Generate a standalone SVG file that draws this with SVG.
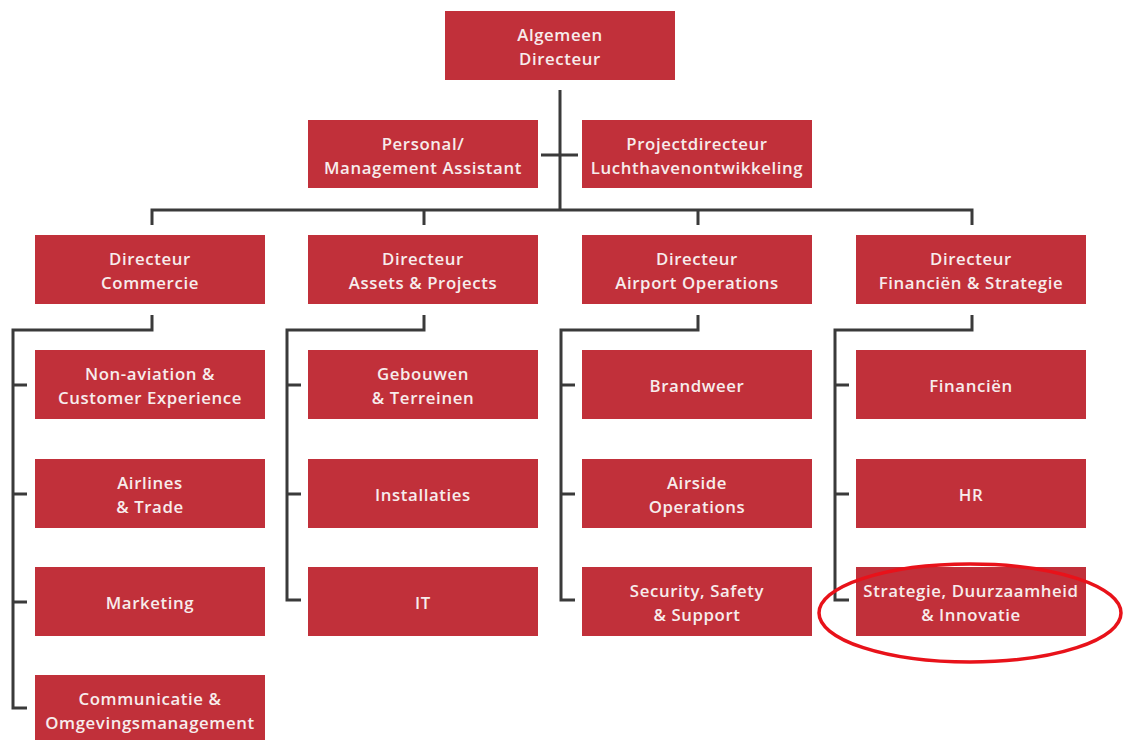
<svg xmlns="http://www.w3.org/2000/svg" width="1123" height="740" viewBox="0 0 1123 740">
<style>
.b{fill:#c1303a}
.t{font-family:"Open Sans","Noto Sans",sans-serif;font-size:16.8px;font-weight:600;letter-spacing:0.6px;fill:#f7ecec;text-anchor:middle;dominant-baseline:central}
.c{fill:none;stroke:#3a3a3a;stroke-width:3}
</style>
<rect width="1123" height="740" fill="#ffffff"/>
<g id="connectors">
<path class="c" d="M560 90V210M541 155H578M152 225V210H972V225M424 210V225M698 210V225"/>
<path class="c" d="M152 315V330H13V708H27M13 385H27M13 494H27M13 602H27"/>
<path class="c" d="M424 315V330H287V600H301M287 385H301M287 494H301"/>
<path class="c" d="M698 315V330H561V600H575M561 385H575M561 494H575"/>
<path class="c" d="M972 315V330H835V600H849M835 385H849M835 494H849"/>
</g>
<g id="n-ad"><rect class="b" x="445" y="11" width="230" height="69"/><text class="t" x="560" y="34">Algemeen</text><text class="t" x="560" y="58">Directeur</text></g>
<g id="n-pa"><rect class="b" x="308" y="120" width="230" height="68"/><text class="t" x="423" y="143">Personal/</text><text class="t" x="423" y="167">Management Assistant</text></g>
<g id="n-pd"><rect class="b" x="582" y="120" width="230" height="68"/><text class="t" x="697" y="143">Projectdirecteur</text><text class="t" x="697" y="167">Luchthavenontwikkeling</text></g>
<g id="n-dc"><rect class="b" x="35" y="235" width="230" height="69"/><text class="t" x="150" y="258">Directeur</text><text class="t" x="150" y="282">Commercie</text></g>
<g id="n-dap"><rect class="b" x="308" y="235" width="230" height="69"/><text class="t" x="423" y="258">Directeur</text><text class="t" x="423" y="282">Assets &amp; Projects</text></g>
<g id="n-dao"><rect class="b" x="582" y="235" width="230" height="69"/><text class="t" x="697" y="258">Directeur</text><text class="t" x="697" y="282">Airport Operations</text></g>
<g id="n-dfs"><rect class="b" x="856" y="235" width="230" height="69"/><text class="t" x="971" y="258">Directeur</text><text class="t" x="971" y="282">Financiën &amp; Strategie</text></g>
<g id="n-nav"><rect class="b" x="35" y="350" width="230" height="69"/><text class="t" x="150" y="373">Non-aviation &amp;</text><text class="t" x="150" y="397">Customer Experience</text></g>
<g id="n-air"><rect class="b" x="35" y="459" width="230" height="69"/><text class="t" x="150" y="482">Airlines</text><text class="t" x="150" y="506">&amp; Trade</text></g>
<g id="n-mkt"><rect class="b" x="35" y="567" width="230" height="69"/><text class="t" x="150" y="602">Marketing</text></g>
<g id="n-com"><rect class="b" x="35" y="675" width="230" height="69"/><text class="t" x="150" y="698">Communicatie &amp;</text><text class="t" x="150" y="722">Omgevingsmanagement</text></g>
<g id="n-geb"><rect class="b" x="308" y="350" width="230" height="69"/><text class="t" x="423" y="373">Gebouwen</text><text class="t" x="423" y="397">&amp; Terreinen</text></g>
<g id="n-ins"><rect class="b" x="308" y="459" width="230" height="69"/><text class="t" x="423" y="494">Installaties</text></g>
<g id="n-it"><rect class="b" x="308" y="567" width="230" height="69"/><text class="t" x="423" y="602">IT</text></g>
<g id="n-bw"><rect class="b" x="582" y="350" width="230" height="69"/><text class="t" x="697" y="385">Brandweer</text></g>
<g id="n-aso"><rect class="b" x="582" y="459" width="230" height="69"/><text class="t" x="697" y="482">Airside</text><text class="t" x="697" y="506">Operations</text></g>
<g id="n-sss"><rect class="b" x="582" y="567" width="230" height="69"/><text class="t" x="697" y="590">Security, Safety</text><text class="t" x="697" y="614">&amp; Support</text></g>
<g id="n-fin"><rect class="b" x="856" y="350" width="230" height="69"/><text class="t" x="971" y="385">Financiën</text></g>
<g id="n-hr"><rect class="b" x="856" y="459" width="230" height="69"/><text class="t" x="971" y="494">HR</text></g>
<g id="n-sdi"><rect class="b" x="856" y="567" width="230" height="69"/><text class="t" x="971" y="590">Strategie, Duurzaamheid</text><text class="t" x="971" y="614">&amp; Innovatie</text></g>
<ellipse cx="970" cy="613" rx="151" ry="49" fill="none" stroke="#e8121a" stroke-width="3.5"/>
</svg>
